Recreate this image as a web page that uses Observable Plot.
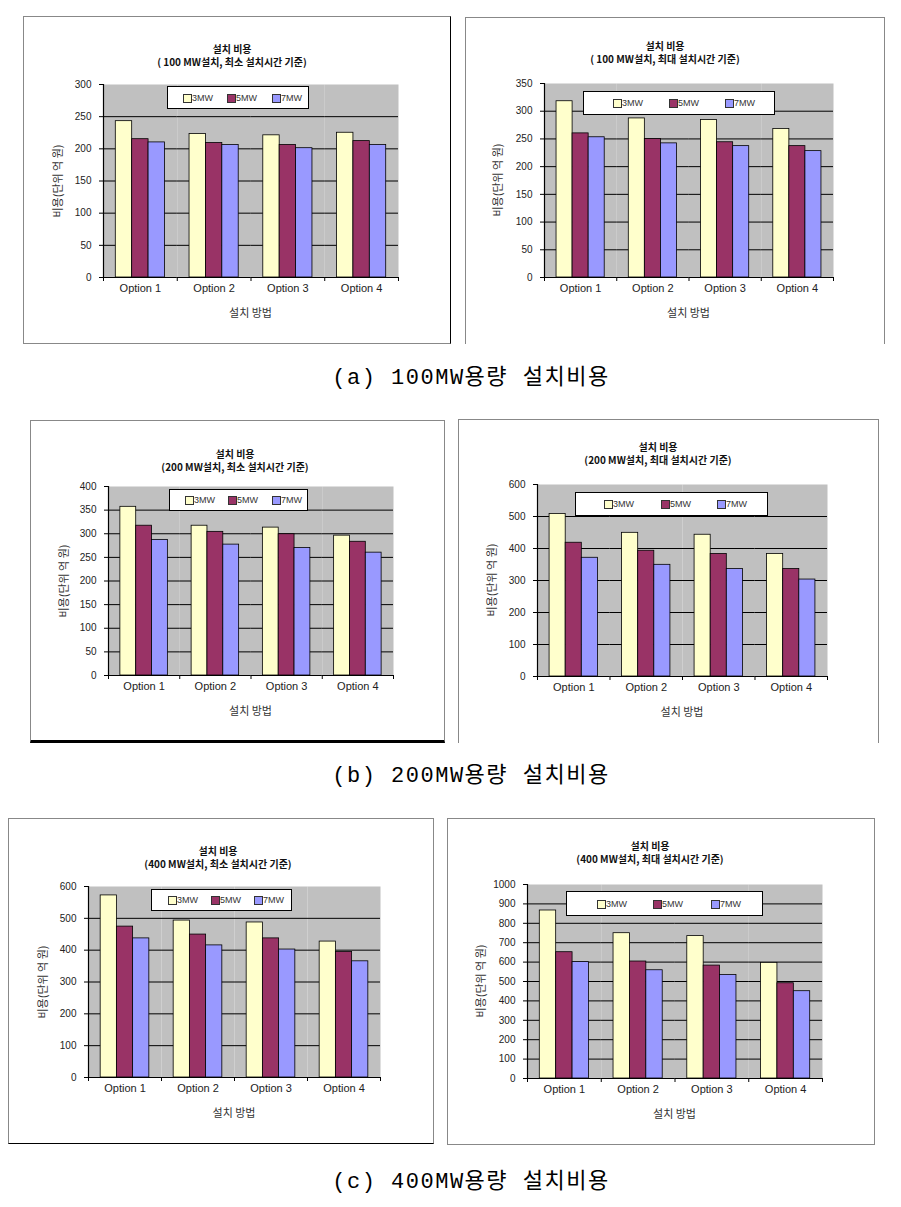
<!DOCTYPE html>
<html><head><meta charset="utf-8">
<script src="https://cdn.jsdelivr.net/npm/d3@7"></script>
<script src="https://cdn.jsdelivr.net/npm/@observablehq/plot@0.6"></script>
<style>
body{margin:0;background:#fff;}
#page{position:relative;width:901px;height:1207px;overflow:hidden;font-family:"Noto Sans CJK KR","Liberation Sans",sans-serif;color:#222;}
.abs{position:absolute;white-space:nowrap;}
svg{position:absolute;overflow:visible;}
</style></head><body><div id="page"></div>
<script>
// ---------- data ----------
const options = ["Option 1", "Option 2", "Option 3", "Option 4"];
const series = ["3MW", "5MW", "7MW"];
const seriesColors = ["#ffffcc", "#993366", "#9999ff"];

// (a) 100MW, minimum installation time
const min100_3MW = [243, 223, 221, 225];
const min100_5MW = [215, 209, 206, 212];
const min100_7MW = [210, 206, 201, 206];
// (a) 100MW, maximum installation time
const max100_3MW = [318, 287, 284, 268];
const max100_5MW = [260, 250, 244, 237];
const max100_7MW = [253, 242, 237, 228];
// (b) 200MW, minimum
const min200_3MW = [357, 317, 313, 296];
const min200_5MW = [317, 304, 299, 283];
const min200_7MW = [287, 277, 270, 260];
// (b) 200MW, maximum
const max200_3MW = [508, 449, 443, 383];
const max200_5MW = [418, 393, 383, 336];
const max200_7MW = [371, 349, 336, 303];
// (c) 400MW, minimum
const min400_3MW = [572, 493, 487, 427];
const min400_5MW = [474, 449, 437, 394];
const min400_7MW = [437, 415, 402, 365];
// (c) 400MW, maximum
const max400_3MW = [866, 749, 734, 596];
const max400_5MW = [651, 603, 582, 491];
const max400_7MW = [600, 558, 533, 450];

// y tick labels
const ticks300 = [0, 50, 100, 150, 200, 250, 300];
const ticks350 = [0, 50, 100, 150, 200, 250, 300, 350];
const ticks400 = [0, 50, 100, 150, 200, 250, 300, 350, 400];
const ticks600 = [0, 100, 200, 300, 400, 500, 600];
const ticks1000 = [0, 100, 200, 300, 400, 500, 600, 700, 800, 900, 1000];

const titleLine1 = "설치 비용";
const titles2 = [
  "( 100 MW설치, 최소 설치시간 기준)",
  "( 100 MW설치, 최대 설치시간 기준)",
  "(200 MW설치, 최소 설치시간 기준)",
  "(200 MW설치, 최대 설치시간 기준)",
  "(400 MW설치, 최소 설치시간 기준)",
  "(400 MW설치, 최대 설치시간 기준)"
];
const yLabel = "비용(단위 억 원)";
const xLabel = "설치 방법";
const captions = ["(a) 100MW용량 설치비용", "(b) 200MW용량 설치비용", "(c) 400MW용량 설치비용"];

// ---------- layout ----------
const G = "1px solid #888", K = "1px solid #000";
const charts = [
  {values:[min100_3MW,min100_5MW,min100_7MW], ticks:ticks300, title:titles2[0],
   frame:[23,16,451,344], plot:[103,84,398,277], tx:232, ty:[49,62], legend:[167,86,309,109], sw:[16,60,105], ylx:57,
   border:{top:G,left:G,bottom:G,right:K}},
  {values:[max100_3MW,max100_5MW,max100_7MW], ticks:ticks350, title:titles2[1],
   frame:[465,17,885,344], plot:[544,83,833,277], tx:665, ty:[46,59], legend:[583,91,775,115], sw:[30,86,142], ylx:497,
   border:{top:G,left:G,right:G}},
  {values:[min200_3MW,min200_5MW,min200_7MW], ticks:ticks400, title:titles2[2],
   frame:[30,420,445,743], plot:[108,486,393,675], tx:235, ty:[454,467], legend:[169,489,308,511], sw:[16,59,103], ylx:63,
   border:{top:G,left:G,right:G,bottom:"3px solid #000"}},
  {values:[max200_3MW,max200_5MW,max200_7MW], ticks:ticks600, title:titles2[3],
   frame:[458,419,879,743], plot:[537,484,827,676], tx:658, ty:[447,460], legend:[575,492,768,516], sw:[29,86,142], ylx:491,
   border:{top:G,left:G,right:G}},
  {values:[min400_3MW,min400_5MW,min400_7MW], ticks:ticks600, title:titles2[4],
   frame:[8,818,434,1144], plot:[88,886,380,1077], tx:218, ty:[851,864], legend:[151,889,292,911], sw:[17,60,103], ylx:42,
   border:{top:G,left:G,right:G,bottom:K}},
  {values:[max400_3MW,max400_5MW,max400_7MW], ticks:ticks1000, title:titles2[5],
   frame:[447,818,875,1145], plot:[527,884,822,1078], tx:650, ty:[846,859], legend:[566,891,763,916], sw:[31,87,145], ylx:480,
   border:{top:G,left:G,right:G,bottom:G}}
];
const captionY = [379, 777, 1183];

const page = document.getElementById("page");
function addDiv(style, text) {
  const d = document.createElement("div");
  d.className = "abs";
  Object.assign(d.style, style);
  if (text != null) d.textContent = text;
  page.appendChild(d);
  return d;
}

for (const c of charts) {
  const [L, T, R, B] = c.frame;
  const [l, t, r, b] = c.plot;
  const W = R - L, H = B - T, pw = r - l, ph = b - t;
  const step = pw / 4 / 4.5;
  const rows = series.flatMap((s, i) => options.map((o, j) => ({option: o, series: s, value: c.values[i][j]})));
  const ymax = c.ticks[c.ticks.length - 1];

  // frame border
  addDiv({left: L + "px", top: T + "px", width: W + "px", height: H + "px", boxSizing: "border-box",
    borderTop: c.border.top || "none", borderLeft: c.border.left || "none",
    borderRight: c.border.right || "none", borderBottom: c.border.bottom || "none"});

  const svg = Plot.plot({
    width: W, height: H,
    marginLeft: l - L, marginRight: R - r, marginTop: t - T, marginBottom: B - b,
    style: {fontFamily: '"Liberation Sans","Noto Sans CJK KR",sans-serif', fontSize: "10px", color: "#222", background: "transparent", overflow: "visible"},
    fx: {domain: options, padding: 0, round: false, label: null},
    x: {domain: series, paddingInner: 0, paddingOuter: 0.75, round: false, axis: null},
    y: {domain: [0, ymax], label: null},
    color: {domain: series, range: seriesColors},
    marks: [
      Plot.frame({fill: "#c0c0c0", stroke: "none"}),
      Plot.ruleY(c.ticks.slice(1, -1), {stroke: "#000", strokeWidth: 1}),
      Plot.barY(rows, {fx: "option", x: "series", y: "value", fill: "series", stroke: "#000", strokeWidth: 0.8}),
      Plot.ruleY([0], {stroke: "#000", strokeWidth: 1.2}),
      Plot.ruleX([{option: options[0], s: series[0]}], {fx: "option", x: "s", dx: -1.25 * step, stroke: "#000", strokeWidth: 1.2}),
      Plot.ruleX(options.map(o => ({option: o, s: series[0]})), {fx: "option", x: "s", dx: -1.25 * step, insetTop: ph, insetBottom: -4, stroke: "#000"}),
      Plot.ruleX([{option: options[3], s: series[2]}], {fx: "option", x: "s", dx: 1.25 * step, insetTop: ph, insetBottom: -4, stroke: "#000"}),
      Plot.axisY({ticks: c.ticks, tickFormat: d => String(d), tickSize: 4, tickPadding: 8, fontSize: 10, label: null, stroke: "#000"}),
      Plot.axisFx({anchor: "bottom", tickSize: 0, tickPadding: 7, fontSize: 11, label: null})
    ]
  });
  svg.style.left = L + "px";
  svg.style.top = T + "px";
  page.appendChild(svg);

  // titles
  addDiv({left: c.tx + "px", top: (c.ty[0] - 6) + "px", transform: "translateX(-50%)", fontSize: "10px", fontWeight: "bold", lineHeight: "12px", color: "#111"}, titleLine1);
  addDiv({left: c.tx + "px", top: (c.ty[1] - 6) + "px", transform: "translateX(-50%)", fontSize: "10px", fontWeight: "bold", lineHeight: "12px", color: "#111"}, c.title);

  // legend
  const [ll, lt, lr, lb] = c.legend;
  const box = addDiv({left: ll + "px", top: lt + "px", width: (lr - ll) + "px", height: (lb - lt) + "px", boxSizing: "border-box", border: "1px solid #000", background: "#fff"});
  series.forEach((s, i) => {
    const sw = document.createElement("div");
    sw.className = "abs";
    Object.assign(sw.style, {left: (c.sw[i] - 1) + "px", top: ((lb - lt) / 2 - 5) + "px", width: "7px", height: "7px", border: "1px solid #333", background: seriesColors[i]});
    box.appendChild(sw);
    const tx = document.createElement("div");
    tx.className = "abs";
    Object.assign(tx.style, {left: (c.sw[i] + 8) + "px", top: ((lb - lt) / 2 - 7) + "px", fontSize: "9px", lineHeight: "12px", fontFamily: '"Liberation Sans",sans-serif', color: "#333"});
    tx.textContent = s;
    box.appendChild(tx);
  });

  // axis titles
  addDiv({left: ((l + r) / 2) + "px", top: (b + 34.5 - 8) + "px", transform: "translateX(-50%)", fontSize: "11px", lineHeight: "16px", color: "#333"}, xLabel);
  addDiv({left: c.ylx + "px", top: ((t + b) / 2) + "px", transform: "translate(-50%,-50%) rotate(-90deg)", fontSize: "11px", lineHeight: "14px", color: "#333"}, yLabel);
}

captions.forEach((cap, i) => {
  addDiv({left: "471px", top: (captionY[i] - 13) + "px", transform: "translateX(-50%)", fontSize: "22px", lineHeight: "26px",
    fontFamily: '"Liberation Mono","Noto Sans CJK KR",monospace', letterSpacing: "1.5px", color: "#000"}, cap);
});
</script>
</body></html>
